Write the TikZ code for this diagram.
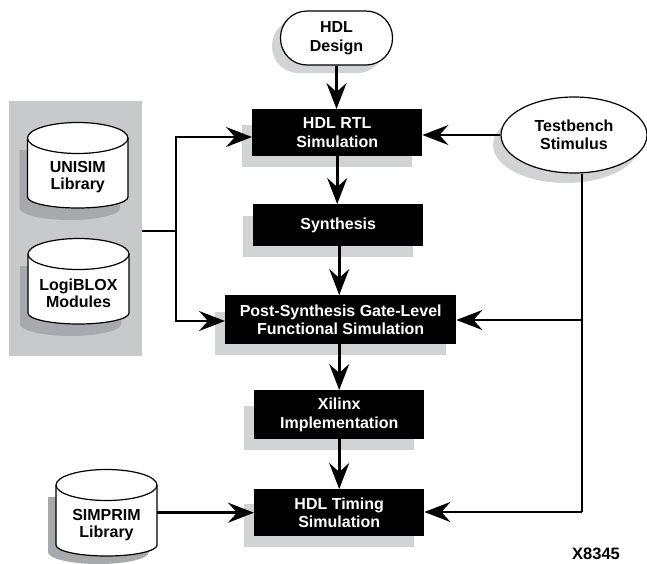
\documentclass[tikz,border=0pt]{standalone}
\usepackage{fontspec}
\setmainfont{Liberation Sans}
\usetikzlibrary{arrows.meta,shapes.geometric,calc}
\definecolor{shadowgrey}{HTML}{D2D3D5}
\definecolor{cylshadow}{HTML}{A7A9AC}
\definecolor{panelgrey}{HTML}{C8C9CB}
\tikzset{
  x=1pt,y=-1pt,
  lbl/.style={font=\fontsize{16}{18.5}\selectfont\bfseries,align=center},
  cyllbl/.style={font=\fontsize{16}{17}\selectfont\bfseries,align=center},
  blk/.style={lbl,fill=black,text=white,inner sep=0pt,anchor=north west},
  conn/.style={line width=2.6pt,-{Stealth[length=26pt,width=20pt,inset=9pt]}},
  plain/.style={line width=2.6pt},
  thinconn/.style={line width=2pt,-{Stealth[length=26pt,width=20pt,inset=9pt]}},
  outl/.style={draw=black,line width=1.2pt,fill=white},
}
\newcommand{\blockbox}[7]{% name, x1,y1,x2,y2, shadow inset from top, text
  \fill[shadowgrey] (#2-10.5,#3+#6) rectangle (#4-10.5,#5+10.5);
  \node[blk,minimum width=#4-#2,minimum height=#5-#3] (#1) at (#2,#3) {#7};
}
\newcommand{\cyl}[7]{% name, xl, xr, ycentre, ybottomside, shadow dy, text
  \pgfmathsetmacro{\rx}{(#3-#2)/2}
  \pgfmathsetmacro{\xm}{(#3+#2)/2}
  \fill[cylshadow] (#2-8,#4+12) -- (#2-8,#5+#6) arc[start angle=180,end angle=360,x radius=\rx,y radius=-12] -- (#3-8,#4+12) -- cycle;
  \draw[outl] (#2,#4) -- (#2,#5) arc[start angle=180,end angle=360,x radius=\rx,y radius=-11] -- (#3,#4);
  \draw[outl] (\xm,#4) ellipse[x radius=\rx,y radius=15.5];
  \node[cyllbl,minimum width=#3-#2,minimum height=#5-#4+28,inner sep=0pt] (#1) at (\xm,{(#4+#5)/2+10}) {#7};
}
\begin{document}
\begin{tikzpicture}
\useasboundingbox (0,0) rectangle (647,563);
\node[fill=panelgrey,minimum width=133,minimum height=255,inner sep=0pt,anchor=north west] (panel) at (9,101) {};
\cyl{unisim}{27.5}{128}{138}{197}{11}{UNISIM\\Library}
\cyl{logiblox}{28}{129}{254}{313}{11}{LogiBLOX\\Modules}
\cyl{simprim}{56}{157}{485}{545}{7}{SIMPRIM\\Library}

\fill[shadowgrey,rounded corners=26.5pt] (272,19) rectangle (384,73);
\node[lbl,draw=black,line width=1.2pt,fill=white,rounded corners=26.5pt,minimum width=112,minimum height=54,inner sep=0pt] (design) at (336.5,38) {HDL\\Design};

\fill[shadowgrey] (566,145) ellipse[x radius=73,y radius=38];
\node[lbl,draw=black,line width=1.2pt,fill=white,ellipse,minimum width=146,minimum height=76,inner sep=0pt] (stim) at (574,135) {Testbench\\Stimulus};

\blockbox{rtl}{252}{109}{422}{156}{16}{HDL RTL\\Simulation}
\blockbox{syn}{253}{204}{423}{246}{12}{Synthesis}
\blockbox{post}{225}{295}{456}{344}{17}{Post-Synthesis Gate-Level\\Functional Simulation}
\blockbox{xil}{254}{390}{424}{439}{16}{Xilinx\\Implementation}
\blockbox{tim}{254}{489}{424}{536}{15}{HDL Timing\\Simulation}

\coordinate (pj) at (176,231);
\coordinate (rtlin) at (176,137);
\coordinate (postin) at (176,321);
\draw[plain] (panel.east |- pj) -- (pj);
\draw[conn] (pj) -- (rtlin) -- (rtl.west |- rtlin);
\draw[conn] (pj) -- (postin) -- (post.west |- postin);
\draw[conn] (design.south) -- (rtl.north -| design.south);
\draw[conn] (rtl.south) -- (syn.north -| rtl.south);
\draw[conn] (syn.south -| xil.north) -- (post.north -| xil.north);
\draw[conn] (post.south -| xil.north) -- (xil.north);
\draw[conn] (xil.south) -- (tim.north);
\draw[conn] (simprim.east |- tim.west) -- (tim.west);
\draw[thinconn] (stim.west) -- (rtl.east |- stim.west);
\coordinate (sb) at (582,512);
\coordinate (sm) at (582,320);
\draw[plain] (stim.south -| sb) -- (sb);
\draw[thinconn] (sm) -- (post.east |- sm);
\draw[thinconn] (sb) -- (tim.east |- sb);
\node[font=\fontsize{16.5}{18}\selectfont\bfseries,inner sep=0pt] (code) at (596,554) {X8345};
\end{tikzpicture}
\end{document}
